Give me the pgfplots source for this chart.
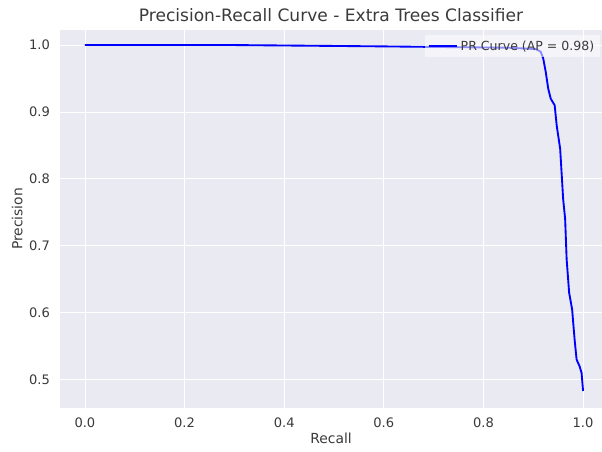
\documentclass[border=0pt]{standalone}
\usepackage{pgfplots}
\pgfplotsset{compat=1.18}
\usepackage{fontspec}
\setmainfont{DejaVu Sans}
\definecolor{panel}{HTML}{EAEAF2}
\definecolor{ink}{HTML}{3A3A3A}

% precision / recall pairs of the classifier
\pgfplotstableread{
recall precision
0.000 1.000
0.300 1.000
0.600 0.998
0.850 0.996
0.905 0.994
0.915 0.990
0.920 0.980
0.925 0.960
0.930 0.935
0.935 0.920
0.943 0.910
0.947 0.880
0.954 0.845
0.960 0.770
0.964 0.740
0.967 0.680
0.972 0.630
0.978 0.605
0.983 0.560
0.987 0.530
0.993 0.520
0.997 0.510
1.000 0.483
}\prdata

\begin{document}
\begin{tikzpicture}
\path[use as bounding box] (0,0) rectangle (451.5pt,338.25pt);
\begin{axis}[
  at={(45pt,32.25pt)}, anchor=south west,
  scale only axis, width=406.5pt, height=283.5pt,
  xmin=-0.05, xmax=1.038, ymin=0.4576, ymax=1.0225,
  axis background/.style={fill=panel},
  axis line style={draw=none},
  major tick length=0pt,
  grid=major, grid style={white, line width=0.6pt},
  xtick={0,0.2,0.4,0.6,0.8,1.0},
  ytick={0.5,0.6,0.7,0.8,0.9,1.0},
  xticklabel style={/pgf/number format/.cd, fixed, fixed zerofill, precision=1},
  yticklabel style={/pgf/number format/.cd, fixed, fixed zerofill, precision=1},
  /pgf/number format/assume math mode=true,
  tick label style={font=\fontsize{9.8}{11}\selectfont, text=ink},
  xticklabel shift=4pt, yticklabel shift=4pt,
  xlabel={Recall}, ylabel={Precision},
  label style={font=\fontsize{10.4}{12}\selectfont, text=ink},
  xlabel style={yshift=3pt},
  ylabel style={yshift=-2pt},
  title={Precision-Recall Curve - Extra Trees Classifier},
  title style={font=\fontsize{12.8}{14}\selectfont, text=ink, yshift=-3.5pt},
  legend style={at={(0.996,0.987)}, anchor=north east,
    fill=white, fill opacity=0.55, text opacity=1, draw=none,
    font=\fontsize{9.4}{11}\selectfont, text=ink,
    inner sep=2pt, row sep=0pt},
  legend image code/.code={%
    \draw[blue, draw opacity=1, line width=1.4pt] (0cm,0cm) -- (0.75cm,0cm);},
  legend cell align=left,
]
\addplot[blue, line width=1.4pt] table[x=recall, y=precision] {\prdata};
\addlegendentry{PR Curve (AP = 0.98)}
\end{axis}
\end{tikzpicture}
\end{document}
